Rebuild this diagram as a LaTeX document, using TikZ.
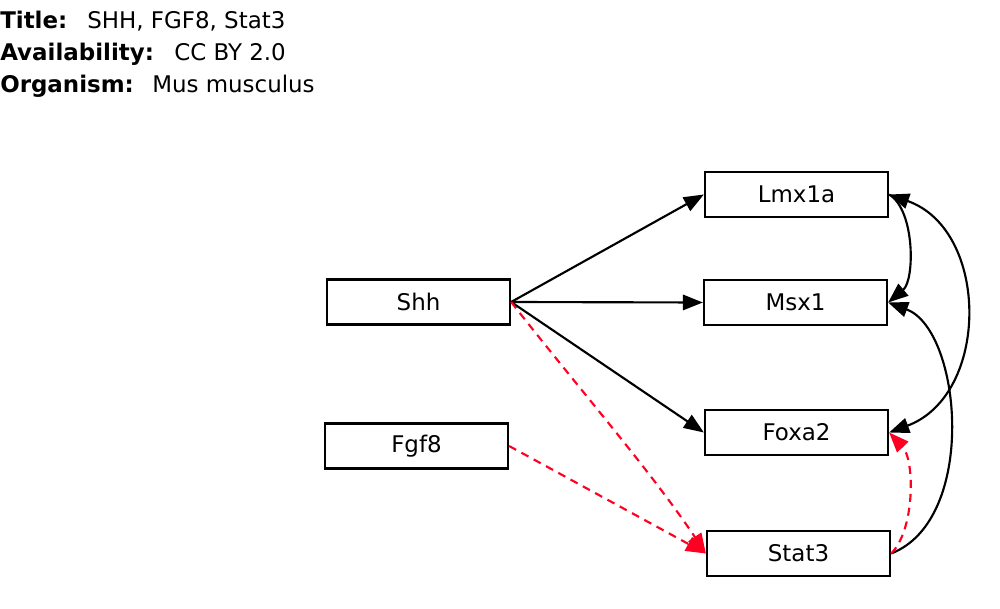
\documentclass[tikz,border=0pt]{standalone}
\usepackage{fontspec}
\setmainfont{DejaVu Sans}
\usetikzlibrary{arrows.meta}
\definecolor{inhred}{RGB}{255,0,35}
\tikzset{
  genebox/.style={draw,line width=1.7pt,minimum width=137.25pt,minimum height=33.75pt,inner sep=0pt,font=\fontsize{17.2}{20}\selectfont},
  infotext/.style={anchor=base west,inner sep=0pt,font=\fontsize{17.2}{20}\selectfont},
  acts/.style={line width=1.6pt,-{Triangle[length=15pt,width=11.5pt]}},
  redacts/.style={line width=1.6pt,inhred,dash pattern=on 6pt off 4.5pt,-{Triangle[length=15pt,width=11.5pt]}}
}
\begin{document}
\begin{tikzpicture}[x=0.75pt,y=0.75pt,yscale=-1,xscale=1]
\useasboundingbox (0,0) rectangle (1000,609);

% Text Node
\node [infotext] (ttl) at (0,28.5) {\textbf{Title:}};
\node [infotext] (ttlv) at (87,28.5) {SHH, FGF8, Stat3};
% Text Node
\node [infotext] (avl) at (0,61) {\textbf{Availability:}};
\node [infotext] (avlv) at (174,61) {CC BY 2.0};
% Text Node
\node [infotext] (org) at (0,93) {\textbf{Organism:}};
\node [infotext] (orgv) at (152,93) {Mus musculus};

%Shape: Rectangle
\node [genebox] (shh) at (418.5,302) {Shh};
%Shape: Rectangle
\node [genebox] (fgf8) at (416.5,446) {Fgf8};
%Shape: Rectangle
\node [genebox] (lmx1a) at (796.5,194.5) {Lmx1a};
%Shape: Rectangle
\node [genebox] (msx1) at (795.5,302.5) {Msx1};
%Shape: Rectangle
\node [genebox] (foxa2) at (796.5,432.5) {Foxa2};
%Shape: Rectangle
\node [genebox] (stat3) at (798.5,553.5) {Stat3};

%Straight Lines
\draw [acts] (shh.east) -- (lmx1a.west);
\draw [acts] (shh.east) -- (msx1.west);
\draw [acts] (shh.east) -- (foxa2.west);
\draw [redacts] (shh.east) .. controls (580,390) and (650,470) .. (stat3.west);
\draw [redacts] (fgf8.east) -- (stat3.west);

%Curve Lines
\draw [acts] (lmx1a.east) .. controls (915,210) and (915,280) .. (msx1.east);
\draw [acts,{Triangle[length=15pt,width=11.5pt]}-{Triangle[length=15pt,width=11.5pt]}] (lmx1a.east) .. controls (990,230) and (990,395) .. (foxa2.east);
\draw [acts] (stat3.east) .. controls (978,520) and (962,330) .. (msx1.east);
\draw [redacts] (stat3.east) .. controls (915,530) and (915,460) .. (foxa2.east);
\end{tikzpicture}
\end{document}
